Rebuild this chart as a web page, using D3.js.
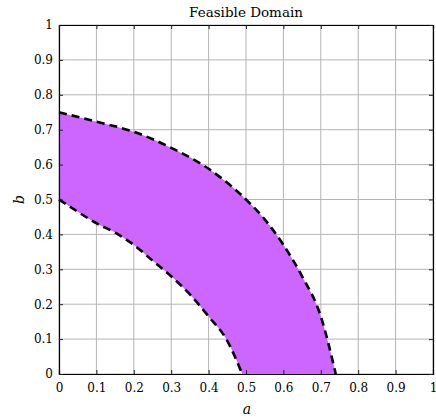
<!DOCTYPE html>
<html>
<head>
<meta charset="utf-8">
<script src="https://cdn.jsdelivr.net/npm/d3@7"></script>
<style>
  body { margin: 0; background: #fff; }
</style>
</head>
<body>
<div id="chart"></div>
<script>
// outer boundary (upper dashed curve)
const outerA = [0, 0.1, 0.2, 0.3, 0.4, 0.5, 0.55, 0.6, 0.65, 0.7, 0.74];
const outerB = [0.75, 0.723, 0.694, 0.648, 0.588, 0.50, 0.443, 0.37, 0.28, 0.165, 0];
// inner boundary (lower dashed curve)
const innerA = [0, 0.05, 0.1, 0.15, 0.2, 0.25, 0.3, 0.35, 0.4, 0.45, 0.49];
const innerB = [0.50, 0.465, 0.432, 0.405, 0.37, 0.325, 0.28, 0.228, 0.165, 0.095, 0];
const ticks = [0, 0.1, 0.2, 0.3, 0.4, 0.5, 0.6, 0.7, 0.8, 0.9, 1];

const width = 436, height = 419;
const mLeft = 59, mRight = 433, mTop = 25, mBottom = 374;
const serif = "DejaVu Serif";

const svg = d3.select("#chart").append("svg")
    .attr("width", width)
    .attr("height", height);

const x = d3.scaleLinear().domain([0, 1]).range([mLeft, mRight]);
const y = d3.scaleLinear().domain([0, 1]).range([mBottom, mTop]);

// grid
svg.append("g").selectAll("line")
    .data(ticks).enter().append("line")
    .attr("x1", d => x(d)).attr("x2", d => x(d))
    .attr("y1", mTop).attr("y2", mBottom)
    .attr("stroke", "#b4b4b4").attr("stroke-width", 1);
svg.append("g").selectAll("line")
    .data(ticks).enter().append("line")
    .attr("y1", d => y(d)).attr("y2", d => y(d))
    .attr("x1", mLeft).attr("x2", mRight)
    .attr("stroke", "#b4b4b4").attr("stroke-width", 1);

// filled region between the curves
const outerPts = outerA.map((a, i) => [a, outerB[i]]);
const innerPts = innerA.map((a, i) => [a, innerB[i]]);
const curve = d3.line().x(d => x(d[0])).y(d => y(d[1])).curve(d3.curveMonotoneX);
const area = d3.line().x(d => x(d[0])).y(d => y(d[1])).curve(d3.curveLinearClosed);

// sample the smoothed curves so the fill follows the dashed lines
function sample(pts) {
    const p = svg.append("path").attr("d", curve(pts)).attr("fill", "none");
    const node = p.node(), len = node.getTotalLength(), out = [];
    for (let i = 0; i <= 200; i++) {
        const q = node.getPointAtLength(len * i / 200);
        out.push([x.invert(q.x), y.invert(q.y)]);
    }
    p.remove();
    return out;
}
const poly = sample(outerPts).concat(sample(innerPts).reverse());
svg.append("path")
    .attr("d", area(poly))
    .attr("fill", "#cc66ff");

[outerPts, innerPts].forEach(pts => {
    svg.append("path")
        .attr("d", curve(pts))
        .attr("fill", "none")
        .attr("stroke", "#000")
        .attr("stroke-width", 2.6)
        .attr("stroke-dasharray", "8,5");
});

// axes
const xAxis = d3.axisBottom(x).tickValues(ticks).tickSize(-4).tickPadding(9).tickFormat(d3.format("~g"));
const yAxis = d3.axisLeft(y).tickValues(ticks).tickSize(-4).tickPadding(6).tickFormat(d3.format("~g"));
const xTop = d3.axisTop(x).tickValues(ticks).tickSize(-4).tickFormat("");
const yRight = d3.axisRight(y).tickValues(ticks).tickSize(-4).tickFormat("");

[[xAxis, `translate(0,${mBottom})`], [yAxis, `translate(${mLeft},0)`],
 [xTop, `translate(0,${mTop})`], [yRight, `translate(${mRight},0)`]].forEach(([ax, tr]) => {
    const g = svg.append("g").attr("transform", tr).call(ax)
        .attr("font-family", serif).attr("font-size", 12);
    g.select(".domain").attr("stroke", "#000").attr("stroke-width", 1.2);
    g.selectAll(".tick line").attr("stroke", "#222");
    g.selectAll("text").attr("fill", "#000");
});

svg.append("text")
    .attr("x", (mLeft + mRight) / 2).attr("y", 17)
    .attr("text-anchor", "middle")
    .attr("font-family", serif)
    .attr("font-size", 13.5)
    .text("Feasible Domain");

svg.append("text")
    .attr("x", (mLeft + mRight) / 2 + 1).attr("y", 414)
    .attr("text-anchor", "middle")
    .attr("font-family", serif)
    .attr("font-size", 14)
    .attr("font-style", "italic")
    .text("a");

svg.append("text")
    .attr("transform", `translate(24,${(mTop + mBottom) / 2}) rotate(-90)`)
    .attr("text-anchor", "middle")
    .attr("font-family", serif)
    .attr("font-size", 14)
    .attr("font-style", "italic")
    .text("b");
</script>
</body>
</html>
